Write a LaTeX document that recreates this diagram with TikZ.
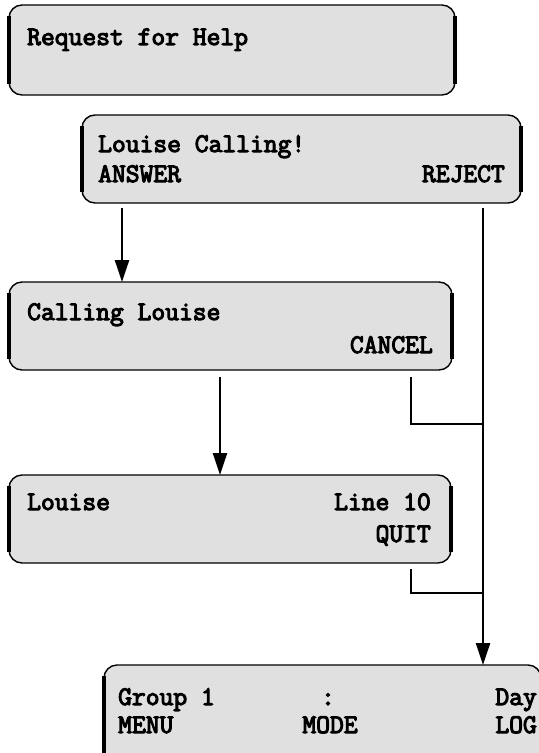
\documentclass[tikz,border=0pt]{standalone}
\usepackage{fontspec}
\usetikzlibrary{arrows.meta}
\newfontfamily\panelface{Latin Modern Mono}[FakeBold=4]
\definecolor{lcdgray}{RGB}{224,224,224}
\newcommand\lcdfont{\fontsize{26.8bp}{30bp}\selectfont\panelface}
\tikzset{
  lcd/.style={draw, line width=1.4bp, rounded corners=13bp, fill=lcdgray,
    inner sep=0pt, outer sep=0pt, anchor=north west},
  lbl/.style={font=\lcdfont, inner sep=0pt},
  link/.style={line width=2.4bp},
  flow/.style={link, -{Triangle[length=22bp,width=14bp]}},
  lcdside/.style={line width=3.6bp},
}
% heavy left and right edges of a display panel
\newcommand\panelsides[1]{%
  \draw[lcdside] ([yshift=-11bp]#1.north west) -- ([yshift=11bp]#1.south west);
  \draw[lcdside] ([yshift=-11bp]#1.north east) -- ([yshift=11bp]#1.south east);}
\begin{document}
\begin{tikzpicture}[x=1bp, y=-1bp]
\useasboundingbox (0,0) rectangle (539,753);

% display panels
\node[lcd, minimum width=446bp, minimum height=90bp] (help) at (9,5) {};
\panelsides{help}
\node[lcd, minimum width=439bp, minimum height=88bp] (incoming) at (82,115) {};
\panelsides{incoming}
\node[lcd, minimum width=443bp, minimum height=88bp] (calling) at (9,282) {};
\panelsides{calling}
\node[lcd, minimum width=442bp, minimum height=88bp] (connected) at (9,475) {};
\panelsides{connected}
\node[lcd, minimum width=437bp, minimum height=100bp] (idle) at (104,665) {};
\panelsides{idle}

% panel texts
\node[lbl, anchor=base west] (helpTxt) at (27,45) {Request for Help};

\node[lbl, anchor=base west] (inTxt) at (98,152) {Louise Calling!};
\node[lbl, anchor=base west] (inAns) at (98,182) {ANSWER};
\node[lbl, anchor=base east] (inRej) at (505,182) {REJECT};

\node[lbl, anchor=base west] (callTxt) at (27,320) {Calling Louise};
\node[lbl, anchor=base east] (callCan) at (433,353) {CANCEL};

\node[lbl, anchor=base west] (conTxt) at (27,510) {Louise};
\node[lbl, anchor=base east] (conLine) at (431,510) {Line 10};
\node[lbl, anchor=base east] (conQuit) at (431,542) {QUIT};

\node[lbl, anchor=base west] (idleGrp) at (118,705) {Group 1};
\node[lbl, anchor=base] (idleColon) at (328,705) {:};
\node[lbl, anchor=base east] (idleDay) at (537,705) {Day};
\node[lbl, anchor=base west] (idleMenu) at (118,733) {MENU};
\node[lbl, anchor=base] (idleMode) at (330,733) {MODE};
\node[lbl, anchor=base east] (idleLog) at (537,733) {LOG};

% connectors
\coordinate (ansTop) at (122,208);
\coordinate (rejTop) at (483,208);
\coordinate (canTop) at (411,377);
\coordinate (canJoin) at (483,424);
\coordinate (midTop) at (220,377);
\coordinate (quitTop) at (411,569);
\coordinate (quitJoin) at (483,593);

\draw[flow] (ansTop) -- (ansTop |- calling.north);
\draw[flow] (midTop) -- (midTop |- connected.north);
\draw[flow] (rejTop) -- (rejTop |- idle.north);
\draw[link] (canTop) |- (canJoin);
\draw[link] (quitTop) |- (quitJoin);
\end{tikzpicture}
\end{document}
